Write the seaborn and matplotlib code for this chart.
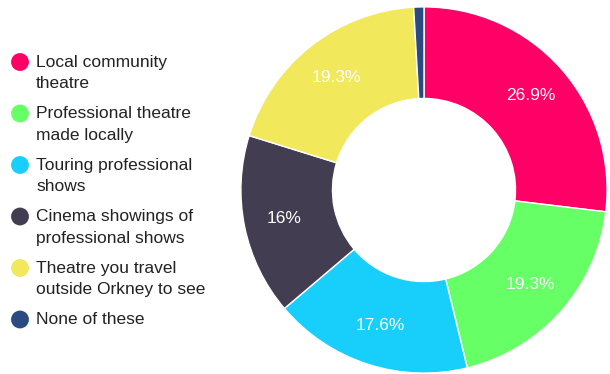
import matplotlib
matplotlib.use("Agg")
import matplotlib.pyplot as plt
import seaborn as sns

# Share of respondents by type of theatre attended
categories = [
    "Local community\ntheatre",
    "Professional theatre\nmade locally",
    "Touring professional\nshows",
    "Cinema showings of\nprofessional shows",
    "Theatre you travel\noutside Orkney to see",
    "None of these",
]
shares = [26.9, 19.3, 17.6, 16.0, 19.3, 0.9]
colours = ["#FF0066", "#66FF66", "#17CFFA", "#423D50", "#F2E85B", "#2A4A80"]

sns.set_theme(style="white")
plt.rcParams["font.family"] = ["Liberation Sans", "DejaVu Sans"]

W, H = 610, 374
fig = plt.figure(figsize=(W / 100, H / 100), dpi=100)
fig.patch.set_facecolor("white")

# Donut
ax = fig.add_axes([240 / W, 0 / H, 368 / W, 368 / H])


def pct_label(p):
    return "" if p < 3 else f"{round(p, 1):g}%"


wedges, _, pct_texts = ax.pie(
    shares,
    colors=colours,
    startangle=90,
    counterclock=False,
    autopct=pct_label,
    pctdistance=0.78,
    wedgeprops=dict(width=0.5, edgecolor="white", linewidth=1.0),
    textprops=dict(color="white", fontsize=12.5),
)
ax.set_xlim(-1.005, 1.005)
ax.set_ylim(-1.005, 1.005)
ax.set_aspect("equal")

# Legend with circular markers, aligned to the first line of each label
lax = fig.add_axes([0, 0, 240 / W, 1])
lax.set_xlim(0, 240)
lax.set_ylim(H, 0)
lax.axis("off")
row_pitch = 51.5
line_gap = 21.7
for i, (name, col) in enumerate(zip(categories, colours)):
    y = 62 + i * row_pitch
    lax.scatter([20], [y], s=165, color=col, edgecolors="none")
    for j, line in enumerate(name.split("\n")):
        lax.text(36, y + j * line_gap, line, fontsize=12.5, color="#222222",
                 va="center", ha="left")

fig.savefig("out.png", dpi=100, facecolor="white")
